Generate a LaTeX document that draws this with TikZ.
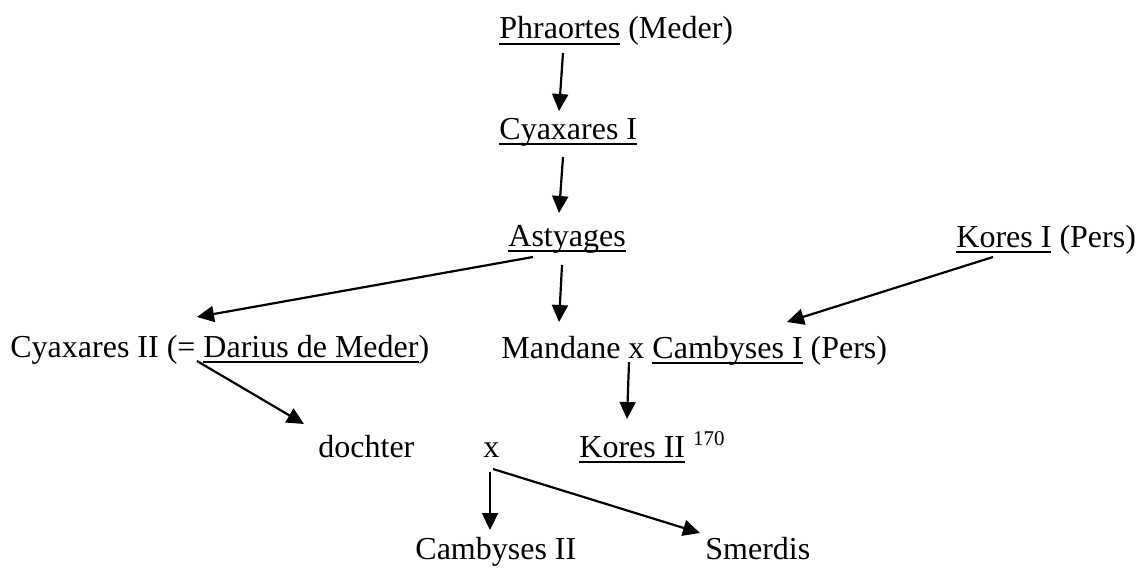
\documentclass[tikz,border=0pt]{standalone}
\usepackage{fontspec}
\setmainfont{Liberation Serif}
\usetikzlibrary{arrows.meta}
\newsavebox{\ondbox}
\newcommand{\ond}[1]{\sbox{\ondbox}{#1}\rlap{\rule[-2.9pt]{\wd\ondbox}{0.9pt}}\usebox{\ondbox}}

\begin{document}
\begin{tikzpicture}[
    x=0.5pt, y=-0.5pt,
    naam/.style={anchor=base west, inner sep=0pt, font=\fontsize{16pt}{19pt}\selectfont},
    pijl/.style={-{Triangle[length=8.5pt, width=8pt]}, line width=1.1pt}
]
\useasboundingbox (0, 0) rectangle (1138, 567);

% ---------------------------------------------------------------
%  Stamboom van de Meden en Perzen
%    (coordinaten in pixels, y naar beneden)
% ---------------------------------------------------------------

% ===== Namen =====
\node[naam] (phraortes) at (499, 39) {\ond{Phraortes} (Meder)};
\node[naam] (cyaxares1) at (499, 139) {\ond{Cyaxares I}};
\node[naam] (astyages) at (508, 246) {\ond{Astyages}};
\node[naam] (kores1) at (956, 247) {\ond{Kores I} (Pers)};
\node[naam] (cyaxares2) at (10, 357) {Cyaxares II (= \ond{Darius de Meder})};
\node[naam] (mandane) at (501, 358) {Mandane x \ond{Cambyses I} (Pers)};
\node[naam] (dochter) at (318, 457) {dochter};
\node[naam] (huwelijk) at (483, 457) {x};
\node[naam] (kores2) at (579, 457)
    {\ond{Kores II} \raisebox{6pt}{\fontsize{10.5pt}{12pt}\selectfont 170}};
\node[naam] (cambyses2) at (415, 559) {Cambyses II};
\node[naam] (smerdis) at (705, 559) {Smerdis};

% ===== Pijlen =====
\draw[pijl] ([shift={(64, 14)}]phraortes.base west) -- ([shift={(60, -28)}]cyaxares1.base west);
\draw[pijl] ([shift={(64, 18)}]cyaxares1.base west) -- ([shift={(51, -33)}]astyages.base west);
\draw[pijl] ([shift={(25, 11)}]astyages.base west) -- ([shift={(187, -40)}]cyaxares2.base west);
\draw[pijl] ([shift={(54, 19)}]astyages.base west) -- ([shift={(58, -36)}]mandane.base west);
\draw[pijl] ([shift={(37, 10)}]kores1.base west) -- ([shift={(286, -36)}]mandane.base west);
\draw[pijl] ([shift={(187, 4)}]cyaxares2.base west) -- ([shift={(-14, -33)}]dochter.base west);
\draw[pijl] ([shift={(128, 4)}]mandane.base west) -- ([shift={(48, -38)}]kores2.base west);
\draw[pijl] ([shift={(7, 15)}]huwelijk.base west) -- ([shift={(75, -29)}]cambyses2.base west);
\draw[pijl] ([shift={(10, 12)}]huwelijk.base west) -- ([shift={(-5, -26)}]smerdis.base west);

\end{tikzpicture}
\end{document}
